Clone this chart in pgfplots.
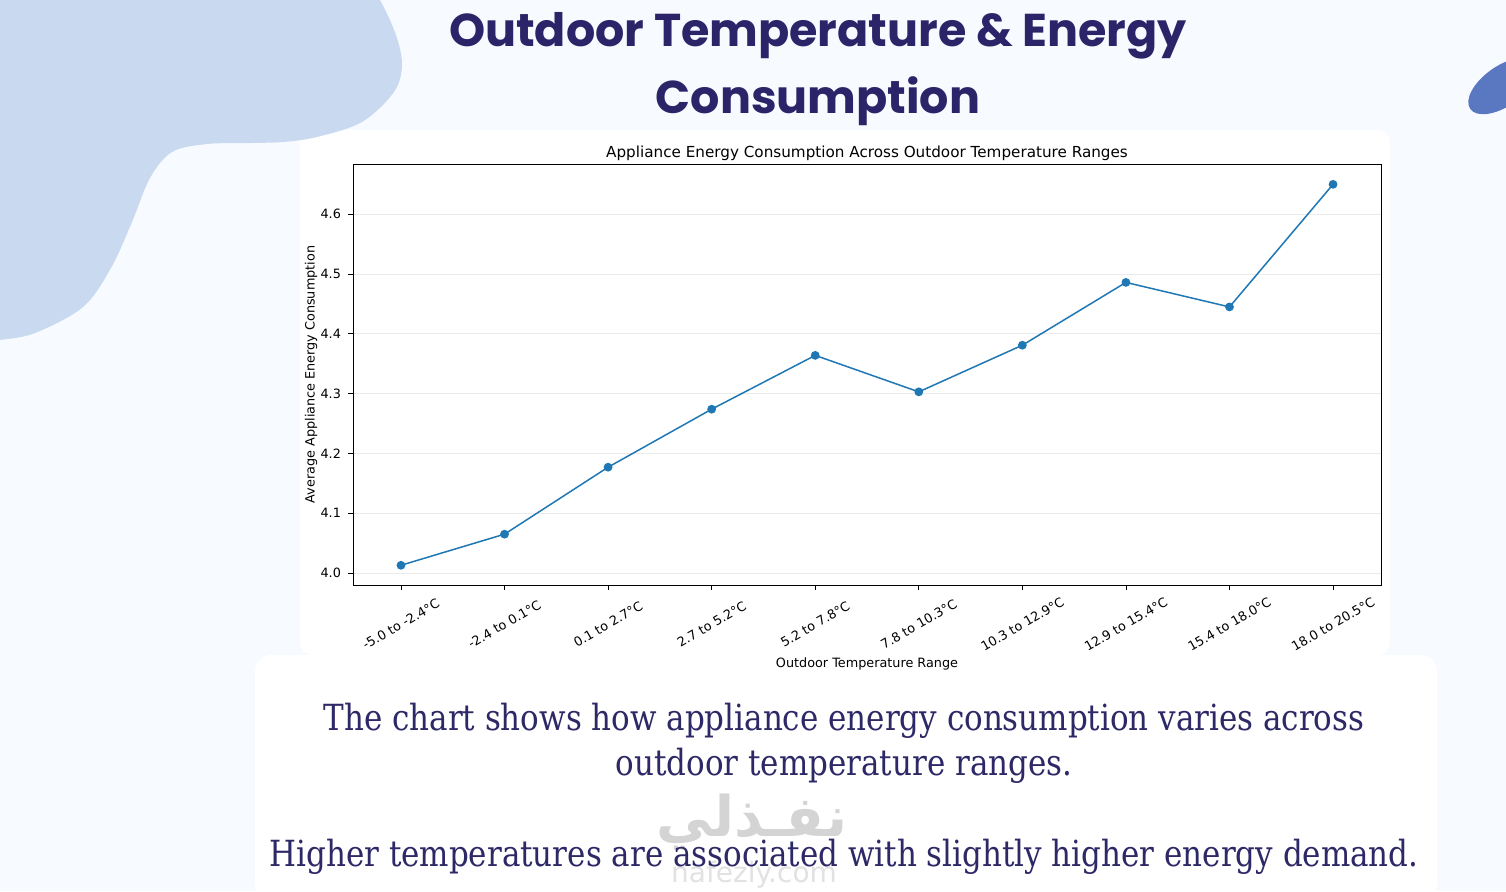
\documentclass[border=0pt]{standalone}
\usepackage{fontspec}
\usepackage{pgfplots}
\pgfplotsset{compat=1.18}
\setmainfont{DejaVu Sans}
\newfontfamily\poppins{Poppins}
\newfontfamily\bodyfont[FakeStretch=0.86]{DejaVu Serif}
\newfontfamily\arabicfont[Script=Arabic]{DejaVu Sans}
\TeXXeTstate=1
\definecolor{bgc}{HTML}{F7FAFE}
\definecolor{blobA}{HTML}{C9D9EF}
\definecolor{blobB}{HTML}{5A78C2}
\definecolor{navy}{HTML}{2B2468}
\definecolor{bodyc}{HTML}{2D2866}
\definecolor{mplblue}{HTML}{1F77B4}
\definecolor{wm}{HTML}{D4D4D4}
\definecolor{wmb}{HTML}{E2E2E2}
\begin{document}
\begin{tikzpicture}[x=0.5pt,y=-0.5pt]
\useasboundingbox (0,0) rectangle (1506,891);
\clip (0,0) rectangle (1506,891);
\fill[bgc] (0,0) rectangle (1506,891);
% panels
\fill[white, rounded corners=6pt] (300,130) rectangle (1390,655);
\fill[white, rounded corners=8pt] (255,655) rectangle (1437,900);
% decorative blobs
\fill[blobA] plot[smooth, tension=0.55] coordinates {(365,-20) (380,0) (396,35) (402,65) (394,92) (362,122) (317,137) (283,142) (250,143) (207,144) (172,152) (150,178) (132,222) (111,268) (83,307) (35,333) (0,340) (-20,342)} -- (-20,-20) -- cycle;
\fill[blobB, rotate around={35:(1503,86)}] (1503,86) ellipse [x radius=40, y radius=20];
% main title
\node[font=\poppins\bfseries\fontsize{23}{28}\selectfont, text=navy, anchor=base] at (818,46) {Outdoor Temperature \& Energy};
\node[font=\poppins\bfseries\fontsize{23}{28}\selectfont, text=navy, anchor=base] at (818,113) {Consumption};
% chart
\begin{axis}[
  at={(176.5pt,-292.5pt)}, anchor=south west,
  width=514pt, height=210.5pt, scale only axis,
  clip=false,
  axis background/.style={fill=white},
  xmin=-0.463, xmax=9.463, ymin=3.98, ymax=4.684,
  xtick={0,...,9},
  xticklabels={{-5.0 to -2.4°C},{-2.4 to 0.1°C},{0.1 to 2.7°C},{2.7 to 5.2°C},{5.2 to 7.8°C},{7.8 to 10.3°C},{10.3 to 12.9°C},{12.9 to 15.4°C},{15.4 to 18.0°C},{18.0 to 20.5°C}},
  x tick label style={yshift=-17pt, rotate=30, anchor=center, font=\fontsize{6.4}{7}\selectfont},
  ytick={4.0,4.1,4.2,4.3,4.4,4.5,4.6},
  y tick label style={font=\fontsize{6.4}{7}\selectfont, /pgf/number format/fixed, /pgf/number format/fixed zerofill, /pgf/number format/precision=1},
  /pgf/number format/assume math mode=true,
  ymajorgrids, grid style={color=black!8, line width=0.4pt},
  tick align=outside, major tick length=2.5pt, tick pos=left,
  tick style={black, line width=0.4pt},
  axis line style={black, line width=0.5pt},
]
\addplot[color=mplblue, line width=0.75pt, mark=*, mark size=1.8pt, mark options={fill=mplblue, draw=mplblue}] coordinates {
(0,4.013) (1,4.065) (2,4.177) (3,4.274) (4,4.364) (5,4.303) (6,4.381) (7,4.486) (8,4.445) (9,4.650)};
\node[font=\fontsize{7.6}{9}\selectfont, anchor=base] at (rel axis cs:0.5,1) [yshift=3.5pt] {Appliance Energy Consumption Across Outdoor Temperature Ranges};
\node[font=\fontsize{6.4}{7}\selectfont, anchor=center] at (rel axis cs:0.5,0) [yshift=-39.5pt] {Outdoor Temperature Range};
\node[font=\fontsize{6.4}{7}\selectfont, anchor=center, xshift=-21pt, rotate=90] at (rel axis cs:0,0.5) {Average Appliance Energy Consumption};
\end{axis}
% watermark
\node[font=\arabicfont\bfseries\fontsize{28}{30}\selectfont, text=wm, anchor=center] at (752,822) {\beginR نفـذلي\endR};
\node[font=\fontsize{14}{16}\selectfont, text=wmb, anchor=center] at (754,875) {nafezly.com};
% body text
\node[font=\bodyfont\fontsize{18}{22}\selectfont, text=bodyc, anchor=base] at (844,730) {The chart shows how appliance energy consumption varies across};
\node[font=\bodyfont\fontsize{18}{22}\selectfont, text=bodyc, anchor=base] at (844,775) {outdoor temperature ranges.};
\node[font=\bodyfont\fontsize{18}{22}\selectfont, text=bodyc, anchor=base] at (844,866) {Higher temperatures are associated with slightly higher energy demand.};
\end{tikzpicture}
\end{document}
